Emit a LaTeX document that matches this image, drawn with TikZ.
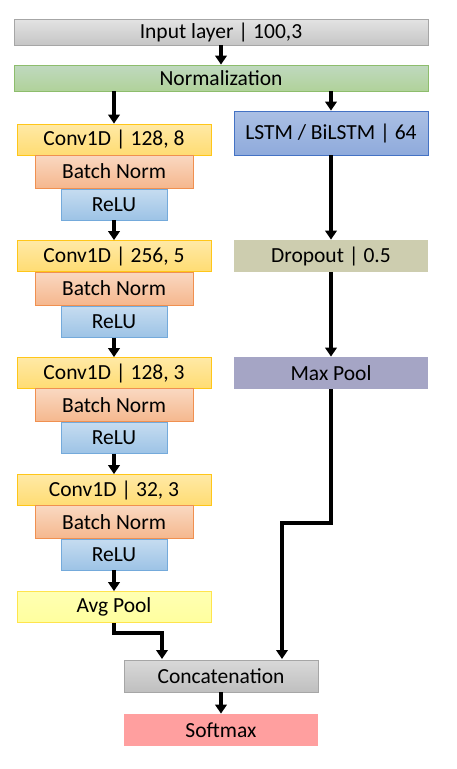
\documentclass[tikz,border=0pt]{standalone}
\usepackage{fontspec}
\setmainfont{Carlito}
\usepackage{xcolor}
\usepackage{tikz}
\usetikzlibrary{arrows.meta}

\definecolor{inpgray}{HTML}{A6A6A6}
\definecolor{normgreen}{HTML}{70AD47}
\definecolor{convgold}{HTML}{FFC000}
\definecolor{bnorange}{HTML}{ED7D31}
\definecolor{relublue}{HTML}{5B9BD5}
\definecolor{lstmblue}{HTML}{4472C4}
\definecolor{dropkhaki}{HTML}{CDCDAF}
\definecolor{poolpurple}{HTML}{A5A5C5}
\definecolor{avgyellow}{HTML}{FFE44D}
\definecolor{softred}{HTML}{FF9F9F}

\tikzset{
  layer/.style={minimum height=31pt, inner sep=0pt, font=\fontsize{21.5}{24}\selectfont, line width=0.8pt},
  widebox/.style={layer, minimum width=414pt, minimum height=26pt, draw=inpgray, top color=gray!22, bottom color=gray!45},
  normbox/.style={layer, minimum width=414pt, minimum height=26pt, draw=normgreen!80, top color=green!40!black!25!white, bottom color=normgreen!55},
  convbox/.style={layer, minimum width=194pt, draw=convgold!90, top color=convgold!35, bottom color=convgold!55},
  bnbox/.style={layer, minimum width=158pt, minimum height=33pt, draw=bnorange!85, top color=bnorange!30, bottom color=bnorange!55},
  relubox/.style={layer, minimum width=106pt, draw=relublue!85, top color=relublue!35, bottom color=relublue!60},
  rightbox/.style={layer, minimum width=194pt, minimum height=32pt},
  flow/.style={line width=3.2pt, -{Triangle[width=11.5pt,length=9pt]}},
}

\begin{document}
\begin{tikzpicture}[x=1pt,y=-1pt]
\useasboundingbox (0,0) rectangle (457,769);

% top
\node[widebox] (input) at (221,32) {Input layer | 100,3};
\node[normbox] (norm) at (221,78) {Normalization};

% conv branch
\node[convbox] (conv1) at (114,139.5) {Conv1D | 128, 8};
\node[bnbox] (bn1) at (114,171.5) {Batch Norm};
\node[relubox] (relu1) at (114,204.5) {ReLU};
\node[convbox] (conv2) at (114,256) {Conv1D | 256, 5};
\node[bnbox] (bn2) at (114,288.5) {Batch Norm};
\node[relubox] (relu2) at (114,322) {ReLU};
\node[convbox] (conv3) at (114,373) {Conv1D | 128, 3};
\node[bnbox] (bn3) at (114,405) {Batch Norm};
\node[relubox] (relu3) at (114,438) {ReLU};
\node[convbox] (conv4) at (114,490) {Conv1D | 32, 3};
\node[bnbox] (bn4) at (114,522) {Batch Norm};
\node[relubox] (relu4) at (114,554.5) {ReLU};
\node[convbox, draw=avgyellow, top color=yellow!30, bottom color=yellow!38] (avg) at (114,607) {Avg Pool};

% lstm branch
\node[rightbox, minimum height=44pt, draw=lstmblue, top color=lstmblue!45, bottom color=lstmblue!60] (lstm) at (331,133) {LSTM / BiLSTM | 64};
\node[rightbox, fill=dropkhaki] (drop) at (331,256) {Dropout | 0.5};
\node[rightbox, fill=poolpurple] (maxpool) at (331,373) {Max Pool};

% merge
\node[rightbox, draw=inpgray, top color=gray!30, bottom color=gray!50] (concat) at (221,676) {Concatenation};
\node[rightbox, fill=softred] (softmax) at (221,730) {Softmax};

\coordinate (avgbend) at (114,633);
\coordinate (concatL) at (162,659);
\coordinate (poolbend) at (331,523);
\coordinate (concatR) at (282,659);

\draw[flow] (input) -- (norm);
\draw[flow] (norm.south -| conv1.north) -- (conv1);
\draw[flow] (norm.south -| lstm.north) -- (lstm);
\draw[flow] (relu1) -- (conv2);
\draw[flow] (relu2) -- (conv3);
\draw[flow] (relu3) -- (conv4);
\draw[flow] (relu4) -- (avg);
\draw[flow] (lstm) -- (drop);
\draw[flow] (drop) -- (maxpool);
\draw[flow] (avg.south) -- (avgbend) -| (concatL);
\draw[flow] (maxpool.south) -- (poolbend) -| (concatR);
\draw[flow] (concat) -- (softmax);
\end{tikzpicture}
\end{document}
